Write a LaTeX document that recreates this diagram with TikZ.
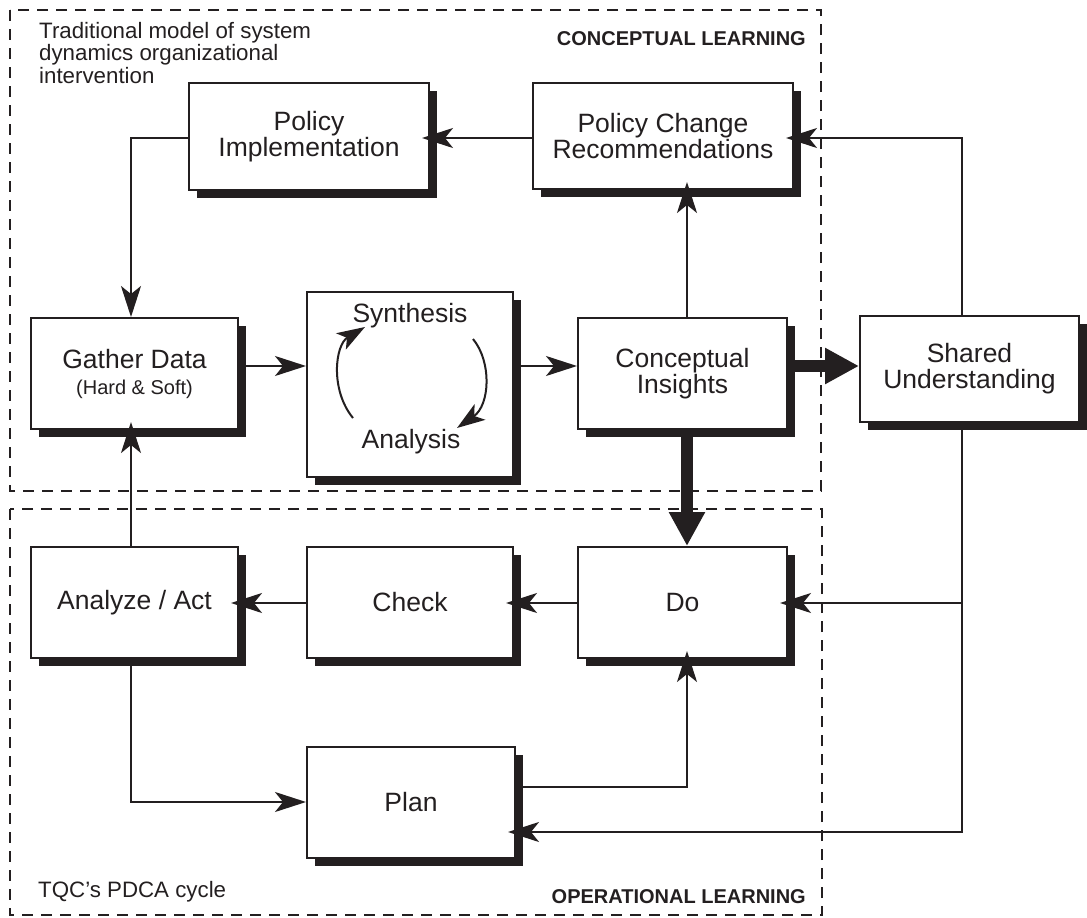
\documentclass[tikz,border=0pt]{standalone}
\usepackage{fontspec}
\setmainfont{Liberation Sans}
\usetikzlibrary{arrows.meta,shadows}
\definecolor{ink}{HTML}{231F20}
\begin{document}
\begin{tikzpicture}[x=1pt,y=-1pt,
  box/.style={draw=ink, line width=2pt, fill=white, inner sep=0pt, align=center,
    text=ink, font=\fontsize{26.5}{26}\selectfont,
    drop shadow={shadow xshift=8pt, shadow yshift=-8pt, fill=ink, opacity=1}},
  link/.style={draw=ink, line width=2pt, -{Stealth[length=31pt,width=20pt,inset=8pt]}},
  cyclearrow/.style={draw=ink, line width=2pt, -{Stealth[length=28pt,width=19pt,inset=7pt]}},
  bold link/.style={draw=ink, line width=12pt, -{Triangle[length=34pt,width=34pt]}},
  toshadow/.style={shorten >=-8pt},
  frame/.style={draw=ink, line width=1.5pt, dash pattern=on 11pt off 8pt},
  caption/.style={inner sep=0pt, align=left, text=ink, font=\fontsize{22.3}{22.5}\selectfont},
  heading/.style={inner sep=0pt, text=ink, font=\bfseries\fontsize{20}{22}\selectfont},
  inlabel/.style={inner sep=0pt, text=ink, font=\fontsize{26.5}{26}\selectfont},
]
\useasboundingbox (0,0) rectangle (1087,918);

% learning regions
\draw[frame] (10,10) rectangle (821,491);
\draw[frame] (10,509) rectangle (822,915);

\node[caption, anchor=north west] (trad) at (39,22)
  {Traditional model of system\\dynamics organizational\\intervention};
\node[heading, anchor=base east] (conc) at (806,45) {CONCEPTUAL LEARNING};
\node[caption, anchor=base west] (tqc) at (38,897) {TQC's PDCA cycle};
\node[heading, anchor=base east] (oper) at (806,903) {OPERATIONAL LEARNING};

% boxes
\node[box, minimum width=240pt, minimum height=107pt] (PI) at (309,136.5) {Policy\\Implementation};
\node[box, minimum width=260pt, minimum height=106pt] (PC) at (663,136) {Policy Change\\Recommendations};
\node[box, minimum width=207pt, minimum height=111pt] (Gather) at (134.5,373.5)
  {Gather Data\\{\fontsize{20}{24}\selectfont (Hard \& Soft)}};
\node[box, minimum width=206pt, minimum height=185pt] (Synth) at (410,384.5) {};
\node[box, minimum width=209pt, minimum height=111pt] (CI) at (682.5,373.5) {Conceptual\\Insights};
\node[box, minimum width=219pt, minimum height=106pt] (SU) at (969.5,369) {Shared\\Understanding};
\node[box, minimum width=207pt, minimum height=111pt] (AA) at (134.5,602.5) {Analyze / Act};
\node[box, minimum width=206pt, minimum height=111pt] (Check) at (410,602.5) {Check};
\node[box, minimum width=209pt, minimum height=111pt] (Do) at (682.5,602.5) {Do};
\node[box, minimum width=208pt, minimum height=111pt] (Plan) at (411,802.5) {Plan};

% synthesis / analysis cycle
\node[inlabel, anchor=base] (syn) at (410,322) {Synthesis};
\node[inlabel, anchor=base] (ana) at (411,448) {Analysis};
\draw[cyclearrow] (353,418) .. controls (330,390) and (335,345) .. (365,327);
\draw[cyclearrow] (473,339) .. controls (492,362) and (490,405) .. (457,428);

% connector rows and columns
\coordinate (rowTop) at (0,138);
\coordinate (rowA) at (0,366);
\coordinate (rowDo) at (0,603);
\coordinate (rowPlanOut) at (0,787);
\coordinate (rowPlanL) at (0,802);
\coordinate (rowPlanIn) at (0,832);
\coordinate (colL) at (131,0);
\coordinate (colM) at (687,0);
\coordinate (colR) at (962,0);

% conceptual loop
\draw[link, toshadow] (PC.west |- rowTop) -- (PI.east |- rowTop);
\draw[link] (PI.west |- rowTop) -| (colL |- Gather.north);
\draw[link] (Gather.east |- rowA) -- (Synth.west |- rowA);
\draw[link] (Synth.east |- rowA) -- (CI.west |- rowA);
\draw[link, toshadow] (colM |- CI.north) -- (colM |- PC.south);
\draw[bold link] (CI.east |- rowA) -- (SU.west |- rowA);
\draw[bold link] (colM |- CI.south) -- (colM |- Do.north);

% shared understanding feedback
\draw[link, toshadow] (colR |- SU.north) |- (PC.east |- rowTop);
\draw[link, toshadow] (colR |- SU.south) |- (Plan.east |- rowPlanIn);
\draw[link, toshadow] (colR |- rowDo) -- (Do.east |- rowDo);

% PDCA loop
\draw[link, toshadow] (Do.west |- rowDo) -- (Check.east |- rowDo);
\draw[link, toshadow] (Check.west |- rowDo) -- (AA.east |- rowDo);
\draw[link, toshadow] (colL |- AA.north) -- (colL |- Gather.south);
\draw[link] (colL |- AA.south) |- (Plan.west |- rowPlanL);
\draw[link, toshadow] (Plan.east |- rowPlanOut) -| (colM |- Do.south);
\end{tikzpicture}
\end{document}
